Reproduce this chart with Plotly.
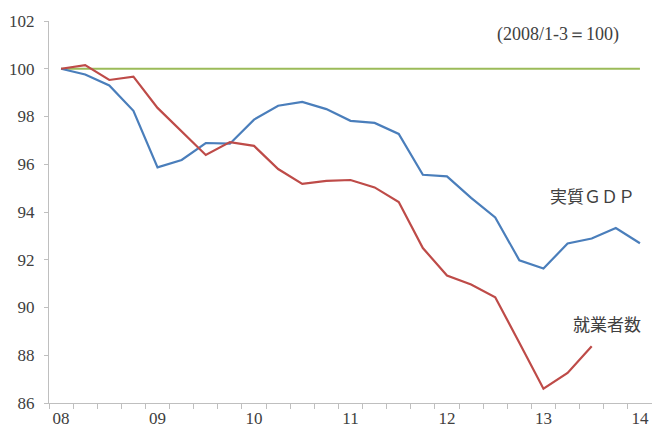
import plotly.graph_objects as go

quarters = [f"{y:02d}Q{q}" for y in range(8, 14) for q in range(1, 5)] + ["14Q1"]
gdp = [100.0, 99.76, 99.30, 98.24, 95.87, 96.18, 96.89, 96.86, 97.87, 98.45, 98.61,
       98.31, 97.82, 97.73, 97.27, 95.56, 95.49, 94.59, 93.77, 91.98, 91.63, 92.68,
       92.89, 93.33, 92.69]
employed = [100.0, 100.15, 99.53, 99.67, 98.36, 97.38, 96.39, 96.93, 96.77, 95.80,
            95.18, 95.30, 95.34, 95.03, 94.42, 92.49, 91.34, 90.96, 90.43, 88.52,
            86.60, 87.26, 88.38]
base = [100.0] * len(quarters)
tick_labels = ["08", "09", "10", "11", "12", "13", "14"]

x_all = list(range(len(quarters)))
serif = "Liberation Serif"
jp = "Noto Sans CJK JP"
txt = "#404040"

fig = go.Figure()
fig.add_trace(go.Scatter(x=x_all, y=base, mode="lines",
                         line=dict(color="#9BBB59", width=2.2), hoverinfo="skip"))
fig.add_trace(go.Scatter(x=x_all, y=gdp, mode="lines",
                         line=dict(color="#4A7EBB", width=2.2), name="実質ＧＤＰ"))
fig.add_trace(go.Scatter(x=x_all[:len(employed)], y=employed, mode="lines",
                         line=dict(color="#BE4B48", width=2.2), name="就業者数"))

fig.update_layout(
    width=652, height=433, showlegend=False,
    margin=dict(l=49, r=0, t=21, b=30),
    plot_bgcolor="white", paper_bgcolor="white",
    font=dict(family=serif, size=17, color=txt),
    xaxis=dict(range=[-0.5, len(quarters) - 0.5], showgrid=False, zeroline=False,
               showline=True, linecolor="#BFBFBF", linewidth=1,
               tickvals=[i * 4 for i in range(len(tick_labels))], ticktext=tick_labels,
               ticks="", tickfont=dict(family=serif, size=17, color=txt),
               minor=dict(tick0=-0.5, dtick=1, ticks="outside", ticklen=5,
                          tickcolor="#BFBFBF", showgrid=False)),
    yaxis=dict(range=[86, 102], dtick=2, showgrid=False, zeroline=False,
               showline=True, linecolor="#BFBFBF", linewidth=1,
               ticks="outside", ticklen=4, tickcolor="#BFBFBF",
               tickfont=dict(family=serif, size=17, color=txt), ticklabelstandoff=6),
)

fig.add_annotation(text="(2008/1-3＝100)", x=558, y=433 - 35, xref="paper", yref="paper",
                   showarrow=False, font=dict(family=serif, size=18, color=txt))
ann = [("実質ＧＤＰ", 592, 195), ("就業者数", 607, 323)]
for t, px, py in ann:
    fig.add_annotation(text=t, x=px, y=433 - py, xref="paper", yref="paper",
                       showarrow=False, font=dict(family=jp, size=17, color=txt))

# convert pixel-based annotation coords to paper coords
pw, ph = 652 - 49, 433 - 21 - 30
for a in fig.layout.annotations:
    a.x = (a.x - 49) / pw
    a.y = (a.y - 30) / ph
    a.xanchor = "center"
    a.yanchor = "middle"

fig.write_html("out.html")
